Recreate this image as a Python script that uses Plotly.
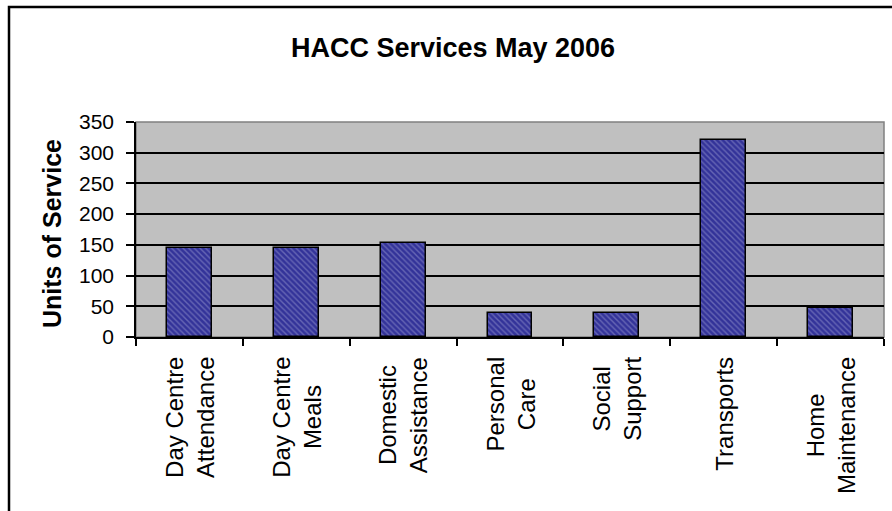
import plotly.graph_objects as go

categories = ["Day Centre<br>Attendance", "Day Centre<br>Meals", "Domestic<br>Assistance",
              "Personal<br>Care", "Social<br>Support", "Transports", "Home<br>Maintenance"]
units = [145, 145, 153, 39, 39, 320, 48]
y_ticks = [0, 50, 100, 150, 200, 250, 300, 350]

W, H = 892, 511
L, R, T, B = 136, 8, 122, 174
FONT = "Arial, Liberation Sans, sans-serif"

fig = go.Figure()
fig.add_trace(go.Bar(
    x=list(range(len(categories))), y=units, width=0.42,
    marker=dict(color="#333399",
                line=dict(color="black", width=1.5),
                pattern=dict(shape="\\", fgcolor="#9a9ad0", size=4, solidity=0.35)),
    hoverinfo="skip",
))

annotations = []
for i, c in enumerate(categories):
    annotations.append(dict(
        x=i, xref="x", y=(337 - 355) / 215, yref="paper",
        text=c, textangle=-90, showarrow=False,
        xanchor="center", yanchor="top", align="center",
        font=dict(family=FONT, size=24, color="black"),
    ))
annotations.append(dict(
    x=(52 - L) / 748, xref="paper", y=(337 - 234) / 215, yref="paper",
    text="<b>Units of Service</b>", textangle=-90, showarrow=False,
    xanchor="center", yanchor="middle",
    font=dict(family=FONT, size=25, color="black"),
))

fig.update_layout(
    width=W, height=H,
    margin=dict(l=L, r=R, t=T, b=B, pad=0),
    paper_bgcolor="white", plot_bgcolor="#C0C0C0",
    showlegend=False,
    title=dict(text="<b>HACC Services May 2006</b>", x=453 / W, xanchor="center",
               y=1 - 48 / H, yanchor="middle", xref="container",
               font=dict(family=FONT, size=27, color="black")),
    annotations=annotations,
    bargap=0,
    shapes=[
        dict(type="rect", xref="paper", yref="paper",
             x0=(9 - L) / 748, x1=2.0, y0=-3.0, y1=(337 - 7) / 215,
             line=dict(color="black", width=2.5), fillcolor="rgba(0,0,0,0)", layer="below"),
        dict(type="rect", xref="paper", yref="paper", x0=0, x1=1, y0=0, y1=1,
             line=dict(color="#808080", width=1.5), fillcolor="rgba(0,0,0,0)", layer="below"),
    ],
)

fig.update_xaxes(
    range=[-0.5, len(categories) - 0.5],
    tickmode="array", tickvals=[i + 0.5 for i in range(-1, len(categories))],
    showticklabels=False,
    ticks="outside", ticklen=7, tickwidth=1.5, tickcolor="black",
    showline=True, linecolor="black", linewidth=1.5,
    showgrid=False, zeroline=False, fixedrange=True,
)
fig.update_yaxes(
    range=[0, 350], tickmode="array", tickvals=y_ticks,
    ticks="outside", ticklen=8, tickwidth=1.5, tickcolor="black",
    ticklabelstandoff=8,
    tickfont=dict(family=FONT, size=21, color="black"),
    showline=True, linecolor="black", linewidth=1.5,
    showgrid=True, gridcolor="black", gridwidth=1.5,
    zeroline=False, fixedrange=True,
)

fig.write_html("out.html")
